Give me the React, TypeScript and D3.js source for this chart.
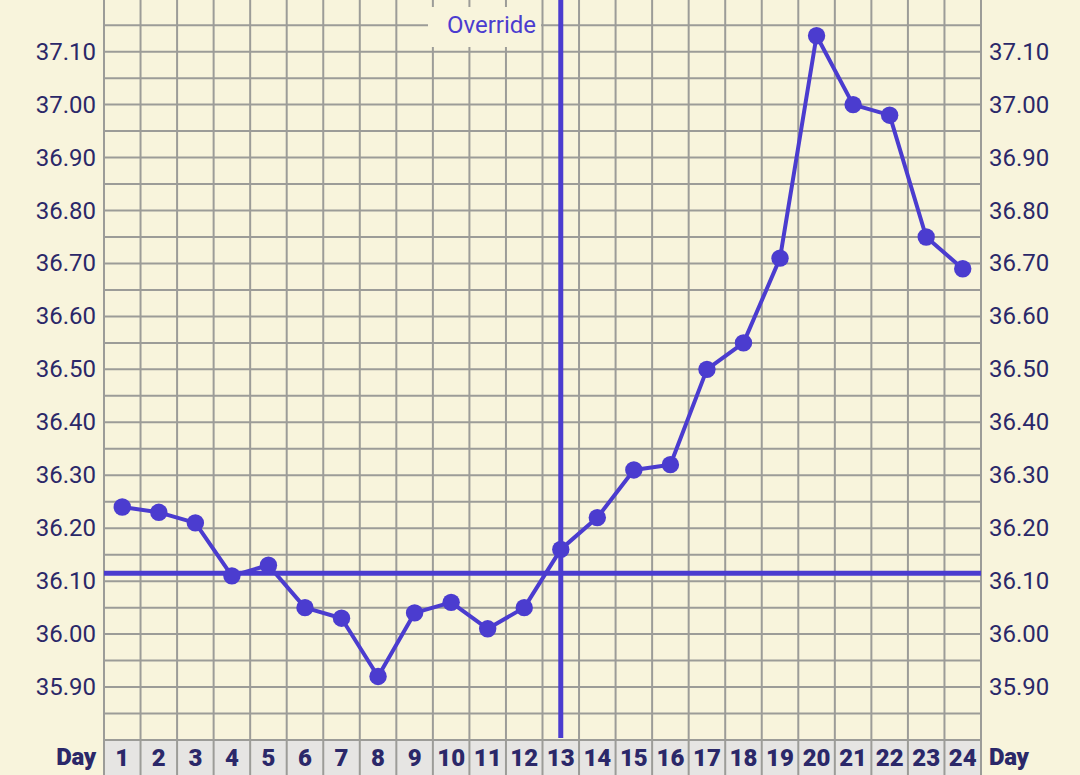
import React from "react";
import * as d3 from "d3";

const days = Array.from({ length: 24 }, (_, i) => i + 1);
const temps = [36.24, 36.23, 36.21, 36.11, 36.13, 36.05, 36.03, 35.92, 36.04, 36.06, 36.01, 36.05, 36.16, 36.22, 36.31, 36.32, 36.5, 36.55, 36.71, 37.13, 37.0, 36.98, 36.75, 36.69];
const yTicks = [35.9, 36.0, 36.1, 36.2, 36.3, 36.4, 36.5, 36.6, 36.7, 36.8, 36.9, 37.0, 37.1];
const coverlineValue = 36.115;
const overrideDay = 13;
const overrideLabel = "Override";
const axisLabel = "Day";

const W = 1080;
const H = 775;
const left = 104;
const right = 981;
const top = -1.3;
const bottom = 740;

const BG = "#f8f4dc";
const GRID = "#9c9c98";
const LINE = "#4b3ccf";
const TEXT = "#2b2869";

export default function App() {
  const x = d3.scaleBand<number>().domain(days).range([left, right]);
  const y = d3.scaleLinear().domain([35.8, 37.2]).range([bottom, top]);
  const cx = (d: number) => (x(d) as number) + x.bandwidth() / 2;
  const gridVals = d3.range(0, 29).map((i) => +(35.8 + i * 0.05).toFixed(2));
  const line = d3
    .line<number>()
    .x((_, i) => cx(days[i]))
    .y((v) => y(v));
  const bounds = [...days.map((d) => x(d) as number), right];
  const font = "Roboto, 'Noto Sans', sans-serif";

  return (
    <svg
      width={W}
      height={H}
      style={{ position: "fixed", left: 0, top: 0, display: "block" }}
      fontFamily={font}
    >
      <rect x={0} y={0} width={W} height={H} fill={BG} />
      <rect x={left} y={bottom} width={right - left} height={H - bottom} fill="#e6e5e3" />
      {gridVals.map((v) => (
        <line key={"h" + v} x1={left} x2={right} y1={y(v)} y2={y(v)} stroke={GRID} strokeWidth={2} />
      ))}
      {bounds.map((bx, i) => (
        <line key={"v" + i} x1={bx} x2={bx} y1={0} y2={H} stroke={GRID} strokeWidth={2} />
      ))}
      <rect x={428} y={7} width={113} height={40} fill={BG} />
      <text x={491.5} y={25} textAnchor="middle" dominantBaseline="central" fontSize={24} fill={LINE}>
        {overrideLabel}
      </text>
      {yTicks.map((v) => (
        <g key={"t" + v}>
          <text x={96} y={y(v)} textAnchor="end" dominantBaseline="central" fontSize={24} fill={TEXT}>
            {v.toFixed(2)}
          </text>
          <text x={989} y={y(v)} textAnchor="start" dominantBaseline="central" fontSize={24} fill={TEXT}>
            {v.toFixed(2)}
          </text>
        </g>
      ))}
      {days.map((d) => (
        <text key={"d" + d} x={cx(d)} y={758} textAnchor="middle" dominantBaseline="central" fontSize={24} fontWeight={900} fill={TEXT}>
          {d}
        </text>
      ))}
      <text x={96} y={757} textAnchor="end" dominantBaseline="central" fontSize={24} fontWeight={900} fill={TEXT} letterSpacing={-0.3}>
        {axisLabel}
      </text>
      <text x={989} y={757} textAnchor="start" dominantBaseline="central" fontSize={24} fontWeight={900} fill={TEXT} letterSpacing={-0.3}>
        {axisLabel}
      </text>
      <line x1={left} x2={right} y1={y(coverlineValue)} y2={y(coverlineValue)} stroke={LINE} strokeWidth={5} />
      <line x1={cx(overrideDay)} x2={cx(overrideDay)} y1={0} y2={738} stroke={LINE} strokeWidth={5} />
      <path d={line(temps) as string} fill="none" stroke={LINE} strokeWidth={4} strokeLinejoin="round" />
      {temps.map((v, i) => (
        <circle key={"c" + i} cx={cx(days[i])} cy={y(v)} r={8.7} fill={LINE} />
      ))}
    </svg>
  );
}
